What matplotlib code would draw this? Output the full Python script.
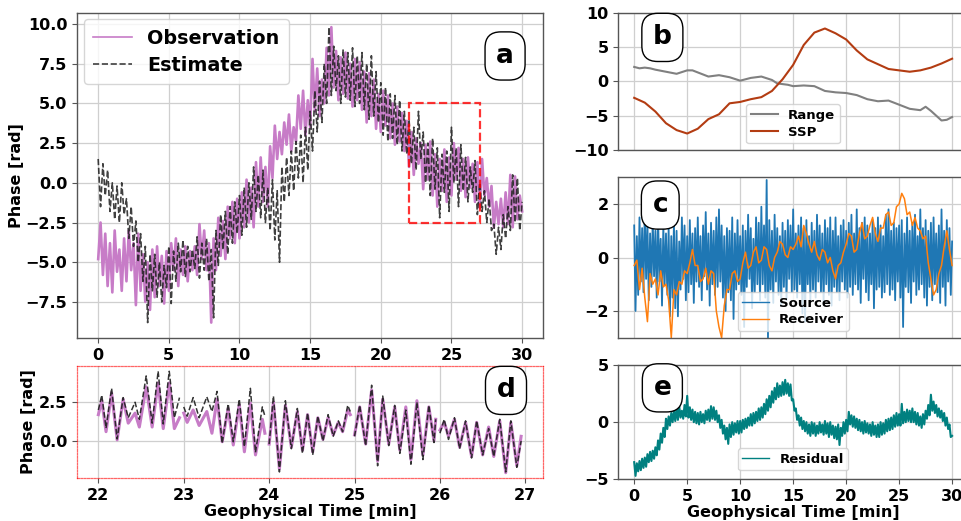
import numpy as np
import matplotlib
matplotlib.use("Agg")
import matplotlib.pyplot as plt
from matplotlib.patches import Rectangle

plt.rcParams['font.family'] = ['DejaVu Sans']
plt.rcParams['font.weight'] = 'bold'
plt.rcParams['axes.labelweight'] = 'bold'

# ---------------- Panel a : observation / estimate (6 samples per minute) ----
a_obs = [
    -4.8, -2.5, -5.8, -3.2, -6.5, -3.8,
    -6.9, -3.0, -5.6, -4.2, -6.8, -3.5,
    -6.2, -3.0, -5.5, -3.8, -7.7, -3.2,
    -6.8, -4.5, -7.5, -5.0, -8.0, -4.2,
    -7.2, -4.0, -6.5, -4.6, -7.6, -4.3,
    -6.8, -3.8, -5.5, -3.5, -6.5, -4.2,
    -5.8, -4.0, -6.2, -4.3, -5.5, -4.0,
    -5.8, -2.6, -4.8, -3.0, -5.5, -3.8,
    -8.8, -3.5, -5.5, -2.2, -4.6, -2.4,
    -4.8, -1.5, -3.5, -1.2, -3.8, -1.0,
    -3.5, -0.6, -2.8, 0.2, -2.5, -0.3,
    -2.8, 1.3, -1.5, 1.6, -1.2, 1.0,
    -1.5, 2.3, 0.3, 3.6, 1.5, 3.2,
    1.8, 3.8, 2.4, 4.3, 2.0, 3.5,
    2.6, 5.5, 3.4, 5.8, 3.0, 5.2,
    3.5, 7.8, 4.5, 7.2, 4.2, 6.5,
    5.0, 8.5, 5.5, 9.8, 6.0, 8.3,
    5.2, 7.9, 5.6, 8.2, 5.3, 7.5,
    4.8, 7.8, 5.2, 7.6, 4.6, 7.0,
    3.8, 6.9, 4.2, 6.5, 3.4, 5.6,
    3.2, 5.8, 3.6, 5.5, 2.8, 5.0,
    2.4, 4.8, 2.6, 4.4, 2.0, 3.9,
    1.0, 3.2, 0.5, 2.8, 1.2, 2.5,
    -0.4, 2.4, 0.2, 2.6, -0.8, 1.8,
    -1.5, 1.5, -0.5, 2.1, -1.2, 1.6,
    -0.8, 2.5, 0.2, 2.2, -0.5, 1.5,
    -0.9, 1.6, -0.3, 1.2, -1.2, 1.3,
    -1.6, 1.5, -0.8, 0.3, -1.5, -0.2,
    -2.8, -1.2, -2.6, -1.0, -2.8, -0.6,
    -2.6, 0.5, -2.8, 0.4, -2.3, -0.8,
    -1.8]

a_est = [
    1.5, -1.5, 1.2, -0.8, 0.8, -1.8,
    0.0, -2.3, -0.2, -2.5, 0.0, -2.0,
    -1.0, -3.5, -1.5, -4.0, -2.4, -5.0,
    -3.2, -6.2, -4.0, -8.8, -4.5, -6.8,
    -4.5, -7.2, -5.0, -7.5, -5.2, -6.6,
    -4.0, -7.6, -4.3, -6.2, -3.8, -5.6,
    -3.6, -5.9, -4.0, -5.6, -4.2, -5.4,
    -3.4, -6.0, -3.8, -5.5, -3.5, -6.2,
    -4.2, -8.5, -3.0, -5.2, -2.0, -4.2,
    -1.8, -4.5, -1.5, -3.8, -1.2, -3.2,
    -0.8, -3.3, -0.3, -2.8, 0.0, -2.3,
    1.0, -1.8, 0.5, -2.2, 0.8, -2.5,
    -0.3, -3.0, 0.2, -3.6, -0.5, -5.0,
    1.0, -1.2, 1.6, -0.8, 2.0, -0.5,
    2.6, 0.3, 3.0, 0.0, 3.5, 0.8,
    4.5, 2.0, 5.8, 3.2, 6.4, 3.8,
    7.5, 5.0, 9.8, 5.5, 8.6, 5.8,
    8.0, 5.0, 8.4, 5.4, 8.2, 5.2,
    8.5, 4.8, 8.0, 5.0, 8.2, 4.6,
    7.5, 4.0, 8.0, 4.2, 7.0, 3.8,
    6.3, 3.0, 6.0, 2.6, 5.6, 2.8,
    5.5, 2.4, 5.2, 2.0, 4.5, 1.8,
    4.0, 1.2, 3.5, 0.8, 4.5, 1.5,
    3.2, 0.0, 2.5, -0.8, 2.8, -0.4,
    2.2, -2.2, 1.8, -0.6, 2.0, -1.8,
    3.5, 0.0, 2.2, -1.5, 2.4, -0.5,
    1.6, -1.2, 1.0, -0.6, 1.4, -2.0,
    0.0, -1.8, -0.5, -2.5, -1.0, -3.0,
    -2.6, -4.5, -2.8, -4.2, -2.0, -3.5,
    -1.5, -3.0, 0.5, -2.5, 0.3, -3.0,
    -1.2]
a_time = np.linspace(0, 30, len(a_obs))

# ---------------- Panel b : Range / SSP -------------------------------------
b_time = [0, 0.5, 1, 1.5, 2, 3, 4, 5, 5.5, 6, 7, 8, 9, 10, 11, 12, 13, 13.5,
          14.5, 15, 16, 17, 18, 19, 20, 21, 22, 23, 24, 25, 26, 27, 27.5, 28,
          29, 29.5, 30]
b_range = [2.1, 1.9, 2.0, 1.9, 1.7, 1.4, 1.1, 1.6, 1.6, 1.3, 0.7, 0.9, 0.6,
           0.1, 0.5, 0.7, 0.2, -0.3, -0.5, -0.7, -0.6, -0.7, -1.4, -1.6, -1.7,
           -2.0, -2.6, -2.9, -2.8, -3.4, -4.0, -4.2, -3.7, -4.3, -5.7, -5.6,
           -5.2]
b_ssp_time = list(range(0, 31))
b_ssp = [-2.4, -3.1, -4.4, -6.1, -7.1, -7.6, -6.9, -5.5, -4.8, -3.2, -3.0,
         -2.6, -2.3, -1.4, 0.3, 2.4, 5.3, 7.1, 7.7, 7.0, 6.1, 4.5, 3.2, 2.5,
         1.8, 1.6, 1.4, 1.6, 2.0, 2.6, 3.3]

# ---------------- Panel c : Source (8/min) / Receiver (4/min) ---------------
c_source = [
    1.2, -2.0, 0.8, -1.4, 1.5, -0.9, 1.1, -1.3,
    1.9, -0.8, 1.3, -1.6, 0.9, -1.1, 1.4, -0.7,
    1.0, -1.5, 1.6, -0.9, 0.7, -1.8, 1.2, -1.0,
    0.9, -1.4, 1.1, -2.2, 0.8, -1.5, 1.3, -1.9,
    1.0, -2.2, 0.6, -1.2, 1.5, -0.8, 1.2, -1.6,
    0.8, -1.3, 1.4, -1.0, 0.9, -1.7, 1.1, -0.9,
    1.5, -1.1, 0.8, -1.6, 1.2, -0.7, 1.7, -1.2,
    0.9, -1.8, 1.3, -1.0, 1.0, -1.4, 1.5, -1.1,
    1.8, -0.9, 1.2, -1.5, 0.8, -2.0, 1.1, -1.3,
    1.0, -1.6, 1.5, -2.3, 0.9, -1.2, 1.4, -1.0,
    0.8, -1.4, 1.2, -2.6, 1.0, -1.1, 1.6, -0.8,
    1.1, -1.9, 0.7, -1.3, 1.5, -1.0, 1.3, -1.6,
    1.9, -1.0, 1.2, -1.5, 2.9, -3.0, 1.4, -1.2,
    1.0, -1.7, 1.6, -0.9, 1.1, -1.4, 0.8, -1.8,
    1.3, -1.1, 1.0, -1.6, 1.4, -0.8, 1.2, -1.3,
    1.8, -1.2, 0.9, -1.5, 1.2, -1.0, 1.5, -2.1,
    1.1, -2.4, 1.4, -1.0, 0.8, -1.6, 1.3, -1.2,
    1.0, -1.5, 1.6, -0.9, 1.2, -1.3, 0.9, -1.7,
    1.4, -1.0, 1.1, -1.4, 1.5, -1.8, 1.0, -1.1,
    1.5, -1.3, 0.8, -1.6, 1.2, -0.9, 1.4, -1.2,
    1.0, -1.5, 1.3, -1.1, 1.6, -1.4, 0.9, -1.0,
    1.8, -1.2, 1.1, -1.7, 1.3, -0.8, 1.5, -1.3,
    1.2, -1.6, 0.9, -1.0, 1.4, -1.9, 1.1, -1.2,
    1.5, -1.1, 1.2, -1.5, 0.8, -1.3, 1.6, -1.0,
    1.8, -1.4, 1.0, -1.2, 1.3, -1.6, 1.1, -0.9,
    1.2, -1.5, 1.4, -2.6, 0.9, -1.1, 1.5, -1.3,
    1.0, -1.7, 1.3, -0.9, 1.6, -1.4, 0.8, -1.2,
    1.8, -1.0, 1.1, -1.5, 1.4, -1.8, 1.0, -1.1,
    1.3, -1.6, 1.5, -1.0, 0.9, -1.3, 1.2, -1.7,
    1.8, -1.1, 1.0, -1.8, 1.4, -0.9, 1.1, -1.4,
    0.6]
c_receiver = [
    -0.3, -0.1, -1.2, -0.4,
    -1.5, -2.4, -0.6, -1.0,
    -0.8, -1.4, -0.5, -1.1,
    -1.0, -1.6, -3.0, -1.2,
    -1.4, -0.9, -1.0, -0.5,
    -0.6, -0.2, 0.3, -0.3,
    -0.3, -0.9, -0.8, -0.4,
    -1.0, -0.5, -0.6, -2.0,
    -2.6, -3.0, -1.8, -1.2,
    -1.2, -0.6, -0.5, -0.9,
    -0.8, -0.2, 0.2, -0.4,
    -0.3, 0.2, 0.4, -0.2,
    -0.1, 0.4, 0.3, -0.3,
    -0.5, 0.0, 0.2, 0.6,
    0.5, 0.1, 0.0, 0.4,
    0.3, 0.5, 0.8, 0.4,
    1.2, 0.9, 0.5, 0.2,
    0.6, 0.1, -0.1, 0.3,
    0.2, -0.2, 0.0, -0.5,
    -0.8, -0.3, -0.2, 0.2,
    0.5, 0.9, 0.8, 0.2,
    0.3, 0.9, 1.3, 0.7,
    0.8, 1.2, 1.5, 0.9,
    0.6, 1.1, 1.1, 1.6,
    1.7, 1.2, 1.3, 1.9,
    2.0, 2.4, 2.2, 1.6,
    1.7, 1.2, 1.5, 1.1,
    1.0, 0.7, 0.8, -0.2,
    -0.8, -1.4, -1.2, -0.6,
    -0.3, 0.4, 1.0, 0.3,
    -0.3]
c_time_src = np.linspace(0, 30, len(c_source))
c_time_rcv = np.linspace(0, 30, len(c_receiver))

# ---------------- Panel d : zoom 22-27 min ----------------------------------
nan = float('nan')
d_time = [22.00, 22.04, 22.09, 22.155, 22.22, 22.29, 22.35, 22.43, 22.48, 22.56,
          22.63, 22.70, 22.76, 22.83, 22.89, 22.95, nan,
          23.00, 23.04, 23.11, 23.18, 23.27, 23.33, 23.39, 23.45, 23.52, 23.58,
          23.65, 23.71, 23.78, 23.84, 23.92, 23.95, nan,
          24.00, 24.05, 24.12, 24.19, 24.26, 24.33, 24.39, 24.45, 24.51, 24.57,
          24.63, 24.69, 24.75, 24.81, 24.86, 24.92, 24.95, nan,
          25.00, 25.06, 25.13, 25.20, 25.27, 25.33, 25.40, 25.47, 25.53, 25.60,
          25.66, 25.73, 25.80, 25.87, 25.93, 25.95, nan,
          26.00, 26.05, 26.10, 26.17, 26.23, 26.30, 26.37, 26.43, 26.50, 26.57,
          26.63, 26.70, 26.77, 26.83, 26.90, 26.95]
d_est = [2.0, 2.96, 0.83, 3.4, 0.13, 2.8, 1.5, 2.5, 1.4, 4.2,
         1.15, 4.5, 1.1, 4.5, 1.5, 2.8, nan,
         2.2, 1.6, 2.8, 1.5, 2.85, 1.9, 3.2, -0.15, 2.4, -0.05,
         2.7, -0.37, 3.4, -0.74, 2.2, 1.6, nan,
         -0.2, 2.9, -2.0, 2.6, -0.5, 2.1, -0.8, 1.8, -0.9, 1.6,
         0.0, 1.7, 0.3, 1.3, 0.6, 2.3, 1.9, nan,
         0.3, 2.3, -0.3, 3.6, -1.6, 2.9, -0.3, 2.3, -0.8, 2.0,
         -1.5, 2.5, -1.2, 2.3, -0.1, 1.4, nan,
         0.5, 1.4, 0.1, 1.5, -0.5, 1.3, -1.1, 1.3, -0.9, 0.8,
         -1.0, 1.4, -2.0, 1.3, -1.7, 0.0]
d_obs = [1.7, 2.6, 0.6, 3.1, 0.07, 2.7, 1.15, 1.8, 0.9, 3.5,
         0.9, 3.75, 0.8, 3.75, 0.8, 1.5, nan,
         1.8, 1.2, 2.0, 1.0, 1.9, 0.5, 2.7, -0.05, 2.1, -0.26,
         2.35, -0.7, 2.45, -0.9, 1.4, 0.5, nan,
         -0.2, 2.5, -1.8, 2.3, -0.4, 1.9, -0.6, 1.7, -0.7, 1.5,
         0.1, 1.5, 0.4, 1.2, 0.6, 2.0, 1.7, nan,
         0.4, 2.2, -0.2, 3.3, -1.3, 2.7, -0.2, 2.2, -0.6, 2.2,
         -1.2, 2.6, -0.9, 2.2, 0.0, 1.4, nan,
         0.7, 1.2, 0.3, 1.4, -0.4, 1.2, -1.0, 1.2, -0.9, 0.9,
         -1.0, 1.3, -2.05, 1.2, -1.6, 0.3]

# ---------------- Panel e : residual (8/min) --------------------------------
e_resid = [
    -3.5, -4.7, -3.6, -4.3, -3.4, -4.2, -3.2, -4.0,
    -3.1, -3.9, -2.8, -3.5, -2.6, -3.4, -2.5, -3.2,
    -2.2, -2.9, -1.6, -2.4, -1.0, -1.8, -0.5, -1.3,
    0.3, -0.6, 0.5, -0.3, 0.8, 0.0, 1.0, 0.1,
    1.2, 0.2, 1.4, 0.4, 1.0, 0.3, 1.5, 0.5,
    2.3, 0.4, 1.3, 0.2, 1.1, 0.0, 0.9, -0.1,
    0.8, -0.2, 0.9, 0.0, 0.7, -0.1, 1.0, 0.2,
    1.1, 0.1, 1.4, 0.3, 1.3, 0.2, 1.0, 0.0,
    0.6, -0.5, 0.2, -1.0, -0.3, -1.5, -0.5, -1.9,
    -0.2, -1.3, 0.0, -1.1, -0.1, -0.9, 0.1, -1.0,
    0.1, -0.9, 0.2, -0.6, 0.3, -0.5, 0.4, -0.3,
    0.7, -0.3, 0.8, -0.1, 0.9, 0.1, 1.2, 0.2,
    1.3, 0.4, 1.6, 0.7, 2.0, 1.0, 2.3, 1.3,
    2.7, 1.7, 3.0, 2.0, 3.4, 2.2, 3.2, 2.3,
    3.5, 2.4, 3.7, 2.5, 3.4, 2.3, 3.3, 1.9,
    2.0, 1.0, 1.2, 0.2, 0.6, -0.3, 0.4, -0.6,
    0.1, -0.8, 0.0, -1.0, -0.2, -1.2, 0.0, -1.0,
    -0.1, -1.2, -0.3, -1.0, 0.0, -0.9, -0.2, -1.1,
    0.1, -1.0, -0.1, -1.3, 0.0, -1.1, -0.3, -1.4,
    -0.4, -1.5, -0.2, -2.0, -0.5, -1.2, 0.0, -1.0,
    0.2, -0.8, 0.9, -0.2, 0.6, -0.4, 0.5, -0.5,
    0.3, -0.7, 0.2, -0.8, 0.0, -1.0, 0.1, -0.9,
    -0.1, -1.0, -0.2, -1.2, 0.0, -1.1, -0.3, -1.3,
    -0.2, -1.3, 0.0, -1.1, -0.1, -1.0, 0.2, -0.8,
    0.3, -0.7, 0.4, -0.6, 0.6, -0.4, 0.8, -0.3,
    0.7, -0.3, 1.6, -0.1, 0.9, 0.0, 1.1, 0.1,
    1.0, 0.0, 1.2, 0.0, 0.9, -0.2, 0.8, -0.3,
    0.5, -0.5, 0.7, -0.2, 1.0, 0.3, 1.5, 0.6,
    2.4, 1.0, 1.8, 0.8, 1.5, 0.5, 1.2, 0.4,
    1.0, 0.1, 0.8, -0.3, 0.4, -0.6, -0.2, -1.3,
    -1.2]
e_time = np.linspace(0, 30, len(e_resid))

# ---------------- styling ----------------------------------------------------
OBS_C = '#c77cc7'
EST_C = '#1e1e1e'
SSP_C = '#b33c12'
RANGE_C = '#808080'
SRC_C = '#1f77b4'
RCV_C = '#ff7f0e'
RES_C = '#008080'
GRID_C = '#cfcfcf'
TICK_FS = 11.5
LAB_FS = 11.5

W, H = 962, 521
fig = plt.figure(figsize=(W / 100, H / 100), dpi=100)


def px_axes(l, t, r, b):
    return fig.add_axes([l / W, (H - b) / H, (r - l) / W, (b - t) / H])


ax_a = px_axes(77, 12.7, 543.3, 338)
ax_d = px_axes(77, 365.7, 543.3, 478)
ax_b = px_axes(618.3, 12.7, 968, 150)
ax_c = px_axes(618.3, 177.3, 968, 337.7)
ax_e = px_axes(618.3, 365, 968, 479.3)


def style(ax):
    ax.grid(True, color=GRID_C, lw=0.9)
    ax.set_axisbelow(True)
    for s in ax.spines.values():
        s.set_color('#555555')
        s.set_linewidth(1.0)
    ax.tick_params(labelsize=TICK_FS, width=0.8, length=3.5, color='#555555')
    for lab in ax.get_xticklabels() + ax.get_yticklabels():
        lab.set_fontweight('bold')


def tag(ax, letter, x, y, fs=19):
    ax.text(x, y, letter, transform=ax.transAxes, ha='center', va='center',
            fontsize=fs, fontweight='bold', zorder=10,
            bbox=dict(boxstyle='round,pad=0.42,rounding_size=0.6', fc='white',
                      ec='black', lw=1.0))


# --- a
ax_a.plot(a_time, a_obs, color=OBS_C, lw=1.9, label='Observation')
ax_a.plot(a_time, a_est, color=EST_C, lw=1.2, ls='--', alpha=0.85, label='Estimate')
ax_a.add_patch(Rectangle((22, -2.5), 5, 7.5, fill=False, ec='red', ls='--',
                         lw=1.6, alpha=0.8, zorder=5))
ax_a.set_xlim(-1.5, 31.5)
ax_a.set_ylim(-9.77, 10.71)
ax_a.set_xticks([0, 5, 10, 15, 20, 25, 30])
ax_a.set_yticks([-7.5, -5.0, -2.5, 0.0, 2.5, 5.0, 7.5, 10.0])
ax_a.set_ylabel('Phase [rad]', fontsize=LAB_FS, fontweight='bold', labelpad=1)
style(ax_a)
leg = ax_a.legend(loc='upper left', prop={'weight': 'bold', 'size': 13.8},
                  handlelength=2.0, borderpad=0.5, labelspacing=0.4,
                  borderaxespad=0.35, bbox_to_anchor=(0.0, 1.0))
for line in leg.get_lines():
    line.set_linewidth(1.2)
tag(ax_a, 'a', 0.918, 0.867)

# --- d
ax_d.plot(d_time, d_obs, color=OBS_C, lw=2.2)
ax_d.plot(d_time, d_est, color=EST_C, lw=1.1, ls='--', alpha=0.9)
ax_d.set_xlim(21.75, 27.21)
ax_d.set_ylim(-2.39, 4.86)
ax_d.set_xticks([22, 23, 24, 25, 26, 27])
ax_d.set_yticks([0.0, 2.5])
ax_d.set_ylabel('Phase [rad]', fontsize=LAB_FS, fontweight='bold', labelpad=2)
ax_d.set_xlabel('Geophysical Time [min]', fontsize=LAB_FS, fontweight='bold',
                labelpad=1)
style(ax_d)
for s in ax_d.spines.values():
    s.set_color('red')
    s.set_alpha(0.6)
    s.set_linestyle((0, (1.5, 1.2)))
    s.set_linewidth(0.9)
tag(ax_d, 'd', 0.92, 0.78)

# --- b
ax_b.plot(b_time, b_range, color=RANGE_C, lw=1.5, label='Range')
ax_b.plot(b_ssp_time, b_ssp, color=SSP_C, lw=1.5, label='SSP')
ax_b.set_xlim(-1.5, 31.5)
ax_b.set_ylim(-10, 10)
ax_b.set_xticks([0, 5, 10, 15, 20, 25, 30])
ax_b.set_yticks([-10, -5, 0, 5, 10])
ax_b.set_xticklabels([])
style(ax_b)
ax_b.tick_params(axis='x', length=0)
ax_b.legend(loc='lower center', prop={'weight': 'bold', 'size': 9.5},
            borderpad=0.35, labelspacing=0.3, bbox_to_anchor=(0.5, 0.0))
tag(ax_b, 'b', 0.126, 0.82)

# --- c
ax_c.plot(c_time_src, c_source, color=SRC_C, lw=1.3, label='Source')
ax_c.plot(c_time_rcv, c_receiver, color=RCV_C, lw=1.1, label='Receiver')
ax_c.set_xlim(-1.5, 31.5)
ax_c.set_ylim(-3, 3)
ax_c.set_xticks([0, 5, 10, 15, 20, 25, 30])
ax_c.set_yticks([-2, 0, 2])
ax_c.set_xticklabels([])
style(ax_c)
ax_c.tick_params(axis='x', length=0)
leg_c = ax_c.legend(loc='lower center', prop={'weight': 'bold', 'size': 9.5},
                    borderpad=0.35, labelspacing=0.3, bbox_to_anchor=(0.5, 0.0))
for line in leg_c.get_lines():
    line.set_linewidth(1.0)
tag(ax_c, 'c', 0.12, 0.827)

# --- e
ax_e.plot(e_time, e_resid, color=RES_C, lw=1.5, label='Residual')
ax_e.set_xlim(-1.5, 31.5)
ax_e.set_ylim(-5, 5)
ax_e.set_xticks([0, 5, 10, 15, 20, 25, 30])
ax_e.set_yticks([-5, 0, 5])
ax_e.set_xlabel('Geophysical Time [min]', fontsize=LAB_FS, fontweight='bold',
                labelpad=1)
style(ax_e)
leg_e = ax_e.legend(loc='lower center', prop={'weight': 'bold', 'size': 9.5},
                    borderpad=0.35, labelspacing=0.3, bbox_to_anchor=(0.5, 0.02))
for line in leg_e.get_lines():
    line.set_linewidth(1.0)
tag(ax_e, 'e', 0.126, 0.80)

fig.savefig('out.png', dpi=100)
